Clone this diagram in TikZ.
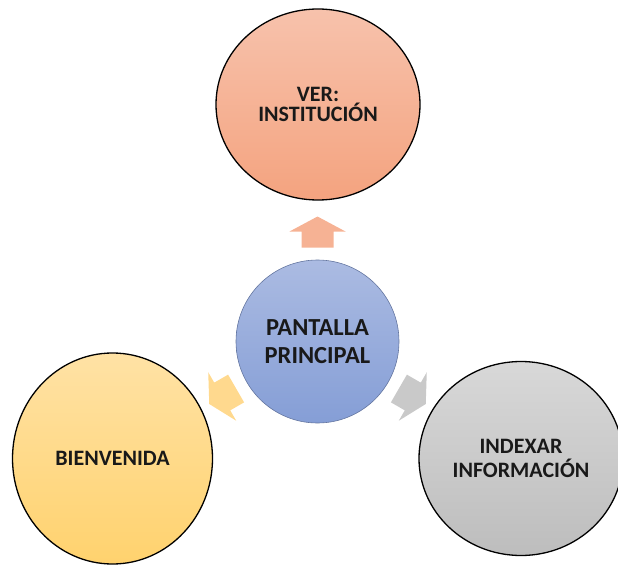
\documentclass[tikz,border=0pt]{standalone}
\usepackage{fontspec}
\setmainfont{Carlito}
\usetikzlibrary{shapes.geometric}

\definecolor{verTop}{RGB}{247,194,172}
\definecolor{verBot}{RGB}{244,163,127}
\definecolor{mainTop}{RGB}{171,187,226}
\definecolor{mainBot}{RGB}{133,158,214}
\definecolor{bienTop}{RGB}{255,226,165}
\definecolor{bienBot}{RGB}{255,210,110}
\definecolor{indexTop}{RGB}{216,216,216}
\definecolor{indexBot}{RGB}{189,189,189}
\definecolor{arrowVer}{RGB}{246,178,148}
\definecolor{arrowBien}{RGB}{255,217,142}
\definecolor{arrowIndex}{RGB}{201,201,201}

\tikzset{
    bubble/.style={ellipse, draw=black, line width=1.3pt, inner sep=0pt, align=center,
        font=\bfseries\fontsize{22}{22}\selectfont, text=black!90},
}

\begin{document}
\begin{tikzpicture}[x=1pt, y=1pt]
    \useasboundingbox (0,0) rectangle (618,566);

    % Draw the central screen
    \node[bubble, draw=mainBot!75!black, line width=0.6pt, minimum width=163pt, minimum height=163pt,
        font=\bfseries\fontsize{24.5}{24.5}\selectfont,
        top color=mainTop, bottom color=mainBot] (main) at (317.5,224.5) {PANTALLA\\[3pt]PRINCIPAL};

    % Draw the three options
    \node[bubble, minimum width=204pt, minimum height=191pt,
        top color=verTop, bottom color=verBot] (ver) at (318,461.5) {VER:\\[-2pt]INSTITUCIÓN};
    \node[bubble, minimum width=200pt, minimum height=211pt,
        top color=bienTop, bottom color=bienBot] (bien) at (112.5,107.5) {BIENVENIDA};
    \node[bubble, minimum width=204pt, minimum height=194pt,
        top color=indexTop, bottom color=indexBot] (index) at (521,107.5) {INDEXAR\\[1.5pt]INFORMACIÓN};

    % Block arrows pointing out of the central screen
    \foreach \ang/\col in {90/arrowVer, 210/arrowBien, 330/arrowIndex}
        \fill[\col, shift={(main.center)}, rotate=\ang]
            (94,-16) -- (110,-16) -- (110,-28) -- (125,0) -- (110,28) -- (110,16) -- (94,16) -- cycle;
\end{tikzpicture}
\end{document}
